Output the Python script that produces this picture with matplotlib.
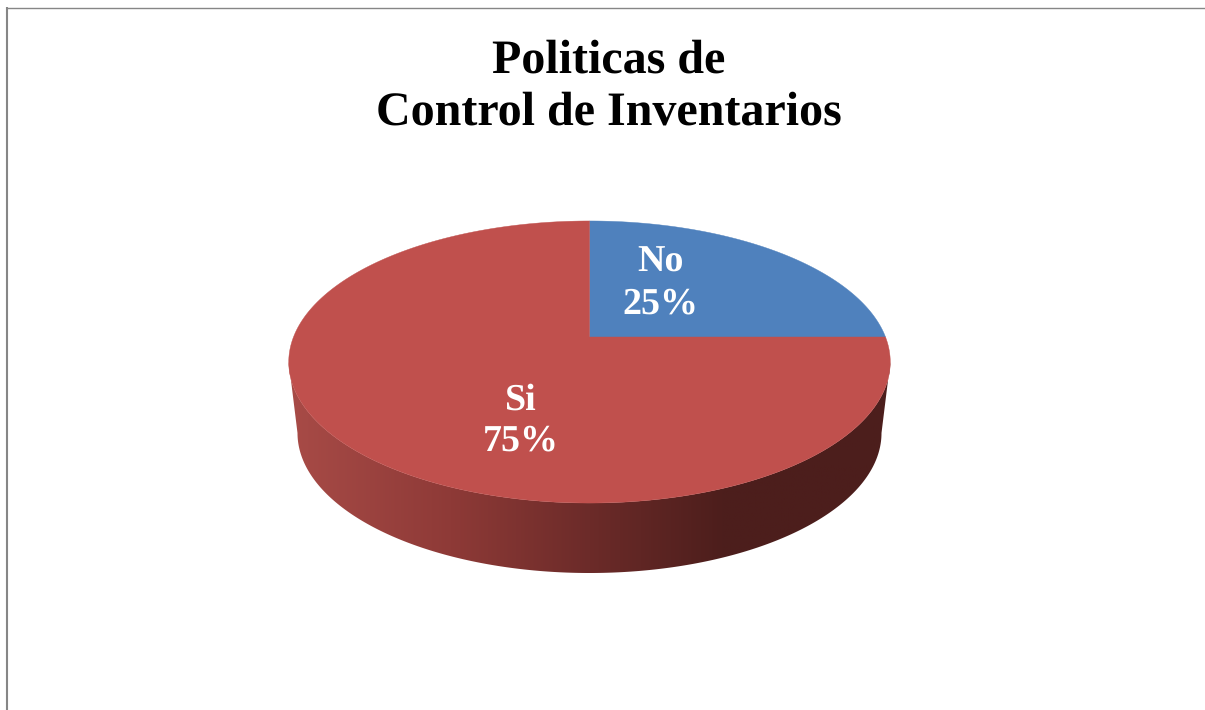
#!/usr/bin/env python3
import numpy as np
import matplotlib
matplotlib.use("Agg")
import matplotlib.pyplot as plt
from matplotlib.colors import LinearSegmentedColormap
from matplotlib.patches import Polygon

labels = ["No", "Si"]
shares = [25, 75]
colors = ["#4f81bd", "#c0504d"]
title = "Politicas de\nControl de Inventarios"

W, H = 1205, 710

plt.rcParams["text.hinting"] = "none"
plt.rcParams["text.hinting_factor"] = 1

# tilted disc: where the centre lands and how the unit circle is foreshortened
CX, CY = 589.5, 337.0
SX, SY, TILT = 296.0, 136.6, 0.1773
# lower rim of the disc, seen as a plain ellipse
RIM_CY, RIM_RX, RIM_RY = 433.0, 292.0, 140.0


def project(x, y):
    w = 1 + TILT * y
    return CX + SX * x / w, CY - SY * y / w


def slice_polygon(start, sweep):
    # angles run clockwise from 12 o'clock
    a = np.radians(90 - np.linspace(start, start + sweep, 240))
    px, py = project(np.cos(a), np.sin(a))
    return np.column_stack([np.r_[CX, px], np.r_[CY, py]])


fig = plt.figure(figsize=(W / 100, H / 100), dpi=100)
ax = fig.add_axes([0, 0, 1, 1])
ax.set_xlim(0, W)
ax.set_ylim(H, 0)
ax.axis("off")

# chart frame, only top and left edges are visible
ax.plot([W, 6.5], [7.5, 7.5], color="#868686", lw=1.0, solid_capstyle="butt")
ax.plot([6.8, 6.8], [7, H], color="#868686", lw=1.5, solid_capstyle="butt")

# side wall with a left to right shading, starting at the widest point of the top face
edge = np.arcsin(TILT)
a = np.linspace(np.pi + edge, 2 * np.pi - edge, 300)
top_x, top_y = project(np.cos(a), np.sin(a))
b = np.linspace(np.pi, 2 * np.pi, 300)
rim_x = CX + RIM_RX * np.cos(b)
rim_y = RIM_CY - RIM_RY * np.sin(b)
wall = Polygon(np.column_stack([np.r_[top_x, rim_x[::-1]], np.r_[top_y, rim_y[::-1]]]),
               closed=True, transform=ax.transData, fc="none", ec="none")
ax.add_patch(wall)
shade = LinearSegmentedColormap.from_list(
    "wall",
    [(0.0, "#a84b47"), (0.27, "#8e3a37"), (0.5, "#6c2b29"), (0.72, "#4d1e1c"), (1.0, "#4c1e1c")],
)
img = ax.imshow(np.linspace(0, 1, 256)[None, :], cmap=shade, aspect="auto",
                extent=[288, 891, 580, 355], zorder=2)
img.set_clip_path(wall)
ax.set_xlim(0, W)
ax.set_ylim(H, 0)

# top face of the pie
start = 0.0
total = sum(shares)
for share, color in zip(shares, colors):
    sweep = 360.0 * share / total
    ax.add_patch(Polygon(slice_polygon(start, sweep), closed=True, fc=color, ec=color,
                         lw=0.3, zorder=3))
    start += sweep

serif = "Liberation Serif"
label_pos = [(660.5, 283.5), (521, 421)]
for name, share, (lx, ly) in zip(labels, shares, label_pos):
    ax.text(lx, ly, f"{name}\n{share}%", ha="center", va="center", color="white",
            family=serif, weight="bold", fontsize=27.5, linespacing=1.27, zorder=4)

ax.text(609, 87, title, ha="center", va="center", color="black", family=serif,
        weight="bold", fontsize=34.5, linespacing=1.28)

fig.savefig("out.png", dpi=100)
